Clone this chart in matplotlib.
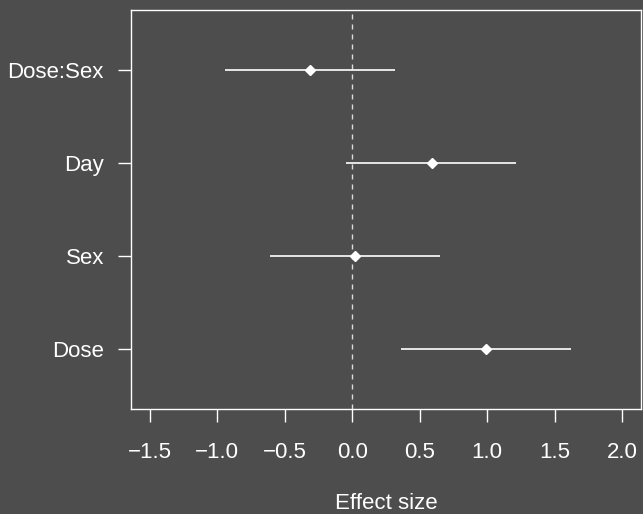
import matplotlib
matplotlib.use("Agg")
import matplotlib.pyplot as plt

terms = ["Dose", "Sex", "Day", "Dose:Sex"]
estimates = [0.99, 0.02, 0.59, -0.315]
lower = [0.36, -0.61, -0.045, -0.945]
upper = [1.62, 0.65, 1.215, 0.315]
xticks = [-1.5, -1.0, -0.5, 0.0, 0.5, 1.0, 1.5, 2.0]
xticklabels = ["\u22121.5", "\u22121.0", "\u22120.5", "0.0", "0.5", "1.0", "1.5", "2.0"]

bg = "#4d4d4d"
plt.rcParams['font.family'] = ['Liberation Sans', 'DejaVu Sans']
FS = 16

fig = plt.figure(figsize=(6.43, 5.14), dpi=100, facecolor=bg)
ax = fig.add_axes([131/643, 1 - 409/514, (641 - 131)/643, (409 - 10)/514])
ax.set_facecolor(bg)

ypos = list(range(1, len(terms) + 1))
ax.axvline(0, color="#dddddd", lw=1.0, dashes=(3.6, 3.6), zorder=1)
for y, e, lo, hi in zip(ypos, estimates, lower, upper):
    ax.plot([lo, hi], [y, y], color="white", lw=1.2, solid_capstyle="butt", zorder=2)
ax.plot(estimates, ypos, linestyle="none", marker="D", markersize=4.6,
        color="white", markeredgecolor="white", zorder=3)

ax.set_xlim(-1.64, 2.14)
ax.set_ylim(0.35, 4.65)

for s in ["top", "right", "left", "bottom"]:
    ax.spines[s].set_color("white")
    ax.spines[s].set_linewidth(1.0)
ax.spines["left"].set_visible(False)
ax.plot([0, 0], [0, 1], transform=ax.transAxes, color="white", lw=1.0, clip_on=False)

ax.set_xticks(xticks)
ax.set_xticklabels(xticklabels)
ax.set_yticks(ypos)
ax.set_yticklabels(terms)
ax.tick_params(axis="both", colors="white", labelcolor="white", labelsize=FS,
               length=9.5, width=1.0, direction="out")
ax.tick_params(axis="x", pad=14)
ax.tick_params(axis="y", pad=10)
ax.set_xlabel("Effect size", color="white", fontsize=FS, labelpad=22)

fig.savefig("out.png", dpi=100, facecolor=bg)
